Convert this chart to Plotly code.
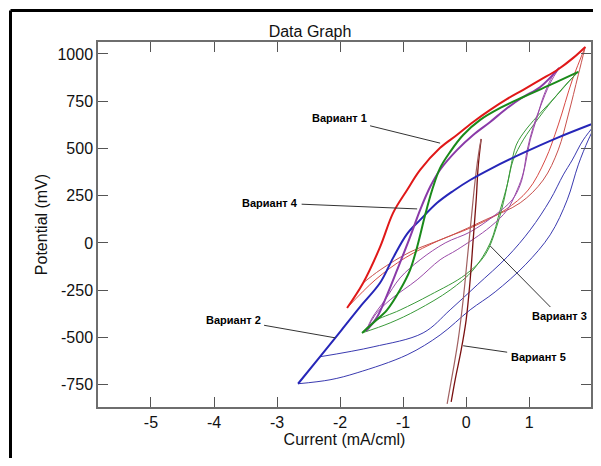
import plotly.graph_objects as go

# ---------------- data ----------------
# Variant 1 (red)
v1_up_x = [-1.889, -1.635, -1.365, -1.159, -0.937, -0.730, -0.413, -0.143, 0.111, 0.381, 0.651, 0.905, 1.175, 1.444, 1.698, 1.889]
v1_up_y = [-344, -212, -21, 159, 280, 386, 503, 572, 640, 704, 762, 810, 863, 915, 979, 1037]
v1_lo1_x = [1.889, 1.683, 1.460, 1.254, 0.984, 0.619, 0.063, -0.413, -0.968, -1.444, -1.889]
v1_lo1_y = [1037, 862, 624, 439, 280, 175, 79, 16, -79, -196, -344]
v1_lo2_x = [1.889, 1.778, 1.619, 1.460, 1.222, 0.857, 0.302, -0.254, -0.889, -1.365, -1.635]
v1_lo2_y = [1037, 889, 677, 492, 333, 212, 122, 37, -48, -143, -212]

# Variant 3 (green)
v3_up_x = [-1.651, -1.476, -1.254, -1.048, -0.889, -0.778, -0.651, -0.540, -0.413, -0.254, -0.048, 0.222, 0.540, 0.905, 1.333, 1.778]
v3_up_y = [-476, -423, -354, -248, -142, -21, 148, 280, 397, 482, 571, 651, 714, 772, 836, 905]
v3_lo1_x = [1.778, 1.603, 1.333, 1.127, 0.905, 0.746, 0.651, 0.540, 0.381, 0.111, -0.254, -0.778, -1.206, -1.651]
v3_lo1_y = [905, 846, 740, 651, 545, 439, 307, 175, 0, -143, -249, -355, -423, -476]
v3_lo2_x = [1.778, 1.683, 1.413, 1.175, 0.968, 0.794, 0.698, 0.619, 0.492, 0.302, -0.016, -0.571, -1.048, -1.476, -1.651]
v3_lo2_y = [905, 873, 772, 687, 608, 518, 386, 254, 95, -63, -169, -275, -355, -418, -476]

# Variant 4 (purple)
v4_up_x = [-1.587, -1.413, -1.254, -1.095, -0.889, -0.730, -0.571, -0.413, -0.143, 0.111, 0.381, 0.651, 0.905, 1.175, 1.476]
v4_up_y = [-466, -392, -275, -143, 32, 175, 297, 387, 492, 571, 640, 714, 772, 825, 926]
v4_lo1_x = [1.476, 1.333, 1.175, 1.063, 0.968, 0.905, 0.810, 0.651, 0.381, -0.143, -0.413, -0.778, -1.206, -1.444, -1.587]
v4_lo1_y = [926, 846, 719, 614, 492, 370, 281, 175, 85, -36, -89, -195, -301, -381, -466]
v4_lo2_x = [1.476, 1.381, 1.222, 1.127, 1.016, 0.937, 0.857, 0.730, 0.460, 0.063, -0.333, -0.730, -1.048, -1.286, -1.492, -1.587]
v4_lo2_y = [926, 889, 772, 666, 545, 413, 307, 228, 148, 58, 0, -89, -185, -301, -397, -466]

# Variant 2 (blue)
v2_up_x = [-2.667, -2.317, -2.000, -1.683, -1.365, -1.159, -0.937, -0.730, -0.460, -0.206, 0.063, 0.381, 0.905, 1.444, 2.079]
v2_up_y = [-745, -602, -470, -338, -211, -79, 48, 122, 212, 275, 333, 391, 476, 556, 640]
v2_lo1_x = [2.079, 1.937, 1.778, 1.603, 1.333, 0.937, 0.460, 0.063, -0.413, -0.937, -1.730, -2.159, -2.667]
v2_lo1_y = [640, 545, 413, 228, 43, -116, -259, -354, -487, -592, -687, -724, -745]
v2_lo2_x = [2.079, 1.857, 1.683, 1.540, 1.333, 1.016, 0.651, 0.175, -0.254, -0.683, -1.476, -2.317]
v2_lo2_y = [640, 545, 439, 360, 228, 69, -74, -222, -354, -476, -550, -602]

# Variant 5 (dark red)
v5_a_x = [0.238, 0.190, 0.159, 0.111, 0.063, 0.000, -0.079, -0.175, -0.238]
v5_a_y = [550, 402, 228, 16, -196, -407, -566, -724, -841]
v5_b_x = [-0.302, -0.206, -0.127, -0.048, 0.016, 0.079, 0.143, 0.206, 0.238]
v5_b_y = [-851, -672, -513, -302, -90, 122, 333, 492, 550]

# labels: text, anchor point on curve (data), text offset (px)
label_text = ["Вариант 1", "Вариант 4", "Вариант 2", "Вариант 3", "Вариант 5"]
label_x = [-0.413, -0.778, -2.079, 0.381, -0.048]
label_y = [528, 180, -502, -16, -544]
label_ax = [-101, -147, -102, 69, 75]
label_ay = [-25, -6, -18, 70, 11]

x_ticks = [-5, -4, -3, -2, -1, 0, 1, 2]
x_tick_text = ["-5", "-4", "-3", "-2", "-1", "0", "1", "2"]
y_ticks = [-750, -500, -250, 0, 250, 500, 750, 1000]
y_tick_text = ["-750", "-500", "-250", "0", "250", "500", "750", "1000"]

# ---------------- figure ----------------
FONT = "Arial, Liberation Sans, sans-serif"
W, H = 585, 450  # page body adds 8px on every side
fig = go.Figure()

def add(x, y, color, width):
    fig.add_trace(go.Scatter(x=x, y=y, mode="lines",
                             line=dict(color=color, width=width, shape="spline", smoothing=1.0),
                             hoverinfo="skip", showlegend=False))

# thin lower branches first
add(v2_lo1_x, v2_lo1_y, "#3a3ab0", 1)
add(v2_lo2_x, v2_lo2_y, "#3a3ab0", 1)
add(v1_lo1_x, v1_lo1_y, "#d84a44", 1)
add(v1_lo2_x, v1_lo2_y, "#c8504c", 1)
add(v3_lo1_x, v3_lo1_y, "#3a9a3a", 1)
add(v3_lo2_x, v3_lo2_y, "#3a9a3a", 1)
add(v4_lo1_x, v4_lo1_y, "#9a4aa8", 1)
add(v4_lo2_x, v4_lo2_y, "#9a4aa8", 1)
add(v5_a_x, v5_a_y, "#7a1010", 1.3)
add(v5_b_x, v5_b_y, "#a06060", 1.2)
# thick upper branches
add(v2_up_x, v2_up_y, "#2626b8", 2)
add(v4_up_x, v4_up_y, "#8a3aa8", 2)
add(v3_up_x, v3_up_y, "#1a8a1a", 2)
add(v1_up_x, v1_up_y, "#e01818", 2)

for t, x, y, ax, ay in zip(label_text, label_x, label_y, label_ax, label_ay):
    fig.add_annotation(x=x, y=y, ax=ax, ay=ay, text="<b>%s</b>" % t,
                       showarrow=True, arrowhead=0, arrowwidth=1, arrowcolor="#333333",
                       font=dict(family=FONT, size=11, color="#000000"),
                       standoff=0, startstandoff=2)

axis_common = dict(showline=True, linecolor="#6e6e6e", linewidth=1.5, mirror="ticks",
                   ticks="inside", ticklen=10, tickwidth=1, tickcolor="#555555",
                   showgrid=False, zeroline=False, automargin=False,
                   tickfont=dict(family=FONT, size=16, color="#111111"))

# margins chosen so the plot area lands at page x 98-591, y 42-407
fig.update_layout(
    width=W, height=H,
    margin=dict(l=90, r=2, t=34, b=51),
    paper_bgcolor="white", plot_bgcolor="white",
    title=dict(text="Data Graph", x=(310 - 8) / W, xanchor="center", y=1 - 23 / H, yanchor="middle",
               font=dict(family=FONT, size=16, color="#111111")),
    xaxis=dict(range=[-5.84, 1.98], tickvals=x_ticks, ticktext=x_tick_text,
               title=dict(text="Current (mA/cml)", standoff=0,
                          font=dict(family=FONT, size=16, color="#111111")),
               **axis_common),
    yaxis=dict(range=[-868, 1063], tickvals=y_ticks, ticktext=y_tick_text,
               title=dict(text="Potential (mV)", standoff=6,
                          font=dict(family=FONT, size=16, color="#111111")),
               **axis_common),
    hovermode=False,
)

# outer black frame (top and left edges visible in the image)
fx0 = (2.5 - 90) / 493
fx1 = (W - 90) / 493
fy1 = (399 - 2.5) / 365
fy0 = (399 - H) / 365
fig.add_shape(type="line", xref="paper", yref="paper", x0=fx0, x1=fx1, y0=fy1, y1=fy1,
              line=dict(color="black", width=3), layer="above")
fig.add_shape(type="line", xref="paper", yref="paper", x0=fx0, x1=fx0, y0=fy1, y1=fy0,
              line=dict(color="black", width=3), layer="above")

fig.write_html("out.html")
